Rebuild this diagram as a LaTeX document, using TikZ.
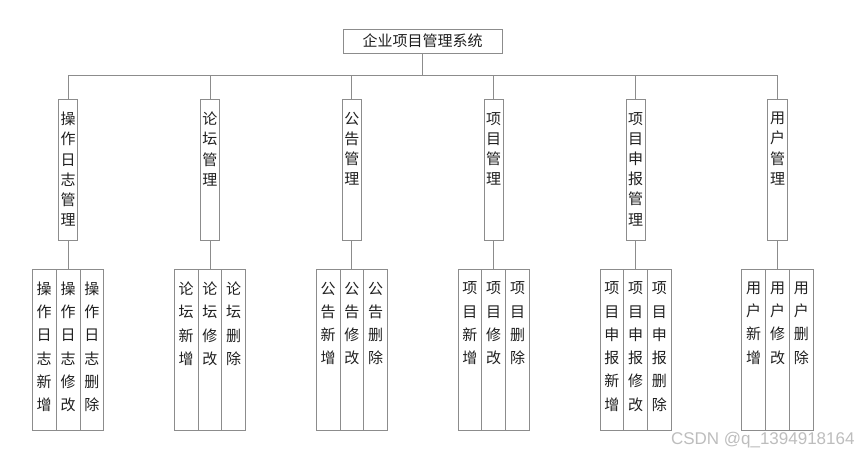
\documentclass[tikz,border=0pt]{standalone}
\usepackage{fontspec}
\newfontfamily\cjk{Noto Sans CJK SC}
\newfontfamily\wmfont{Liberation Sans}
\usetikzlibrary{positioning}

\definecolor{linegray}{HTML}{8C8C8C}
\definecolor{textgray}{HTML}{1F1F1F}
\definecolor{markgray}{HTML}{BDBDBD}

% top aligned column of characters: height, width, top gap, text
\newcommand{\colbox}[4]{\parbox[c][#1][t]{#2}{\vspace*{#3}\centering #4\par}}
\newcommand{\midtext}[1]{\colbox{141.4pt}{19.4pt}{12.8pt}{#1}}
\newcommand{\subtext}[1]{\colbox{161.3pt}{23.8pt}{12.8pt}{#1}}

\begin{document}
\begin{tikzpicture}[x=1pt,y=1pt,node distance=141.9pt,line width=0.8pt,
  top node/.style={rectangle,draw=linegray,text=textgray,inner sep=0pt,
  font=\cjk\fontsize{15}{17}\selectfont,minimum width=159pt,minimum height=24pt},
  mid node/.style={rectangle,draw=linegray,text=textgray,inner sep=0pt,
  font=\cjk\fontsize{15}{20.2}\selectfont},
  sub node/.style={rectangle,draw=linegray,text=textgray,inner sep=0pt,
  font=\cjk\fontsize{15}{23.3}\selectfont}]

  \useasboundingbox (0,0) rectangle (855,-454);

  \node[top node] (SYS) at (422.5,-41) {企业项目管理系统};

  %Second level modules%
  \node[mid node] (LOG) at (68,-170) {\midtext{操\\作\\日\\志\\管\\理}};
  \node[mid node] (BBS) [right of=LOG] {\midtext{论\\坛\\管\\理}};
  \node[mid node] (NEWS) [right of=BBS] {\midtext{公\\告\\管\\理}};
  \node[mid node] (PRJ) [right of=NEWS] {\midtext{项\\目\\管\\理}};
  \node[mid node] (APP) [right of=PRJ] {\midtext{项\\目\\申\\报\\管\\理}};
  \node[mid node] (USR) [right of=APP] {\midtext{用\\户\\管\\理}};

  %Operation log%
  \node[sub node] (LOGedit) [below of=LOG,node distance=179.65pt] {\subtext{操\\作\\日\\志\\修\\改}};
  \node[sub node] (LOGadd) [left of=LOGedit,node distance=23.8pt] {\subtext{操\\作\\日\\志\\新\\增}};
  \node[sub node] (LOGdel) [right of=LOGedit,node distance=23.8pt] {\subtext{操\\作\\日\\志\\删\\除}};
  %Forum%
  \node[sub node] (BBSedit) [below of=BBS,node distance=179.65pt] {\subtext{论\\坛\\修\\改}};
  \node[sub node] (BBSadd) [left of=BBSedit,node distance=23.8pt] {\subtext{论\\坛\\新\\增}};
  \node[sub node] (BBSdel) [right of=BBSedit,node distance=23.8pt] {\subtext{论\\坛\\删\\除}};
  %Notice%
  \node[sub node] (NEWSedit) [below of=NEWS,node distance=179.65pt] {\subtext{公\\告\\修\\改}};
  \node[sub node] (NEWSadd) [left of=NEWSedit,node distance=23.8pt] {\subtext{公\\告\\新\\增}};
  \node[sub node] (NEWSdel) [right of=NEWSedit,node distance=23.8pt] {\subtext{公\\告\\删\\除}};
  %Project%
  \node[sub node] (PRJedit) [below of=PRJ,node distance=179.65pt] {\subtext{项\\目\\修\\改}};
  \node[sub node] (PRJadd) [left of=PRJedit,node distance=23.8pt] {\subtext{项\\目\\新\\增}};
  \node[sub node] (PRJdel) [right of=PRJedit,node distance=23.8pt] {\subtext{项\\目\\删\\除}};
  %Project application%
  \node[sub node] (APPedit) [below of=APP,node distance=179.65pt] {\subtext{项\\目\\申\\报\\修\\改}};
  \node[sub node] (APPadd) [left of=APPedit,node distance=23.8pt] {\subtext{项\\目\\申\\报\\新\\增}};
  \node[sub node] (APPdel) [right of=APPedit,node distance=23.8pt] {\subtext{项\\目\\申\\报\\删\\除}};
  %User%
  \node[sub node] (USRedit) [below of=USR,node distance=179.65pt] {\subtext{用\\户\\修\\改}};
  \node[sub node] (USRadd) [left of=USRedit,node distance=23.8pt] {\subtext{用\\户\\新\\增}};
  \node[sub node] (USRdel) [right of=USRedit,node distance=23.8pt] {\subtext{用\\户\\删\\除}};

  %System to each module%
  \draw[linegray] (LOG.north) -- ++(0,23.2) -| (SYS.south);
  \draw[linegray] (BBS.north) -- ++(0,23.2) -| (SYS.south);
  \draw[linegray] (NEWS.north) -- ++(0,23.2) -| (SYS.south);
  \draw[linegray] (PRJ.north) -- ++(0,23.2) -| (SYS.south);
  \draw[linegray] (APP.north) -- ++(0,23.2) -| (SYS.south);
  \draw[linegray] (USR.north) -- ++(0,23.2) -| (SYS.south);

  %Module to its functions%
  \draw[linegray] (LOG.south) -- (LOGedit.north);
  \draw[linegray] (BBS.south) -- (BBSedit.north);
  \draw[linegray] (NEWS.south) -- (NEWSedit.north);
  \draw[linegray] (PRJ.south) -- (PRJedit.north);
  \draw[linegray] (APP.south) -- (APPedit.north);
  \draw[linegray] (USR.south) -- (USRedit.north);

  \node[font=\wmfont\fontsize{17}{17}\selectfont,text=markgray,anchor=base east,
  inner sep=0pt] (mark) at (855,-445) {CSDN @q\_1394918164};

\end{tikzpicture}
\end{document}
